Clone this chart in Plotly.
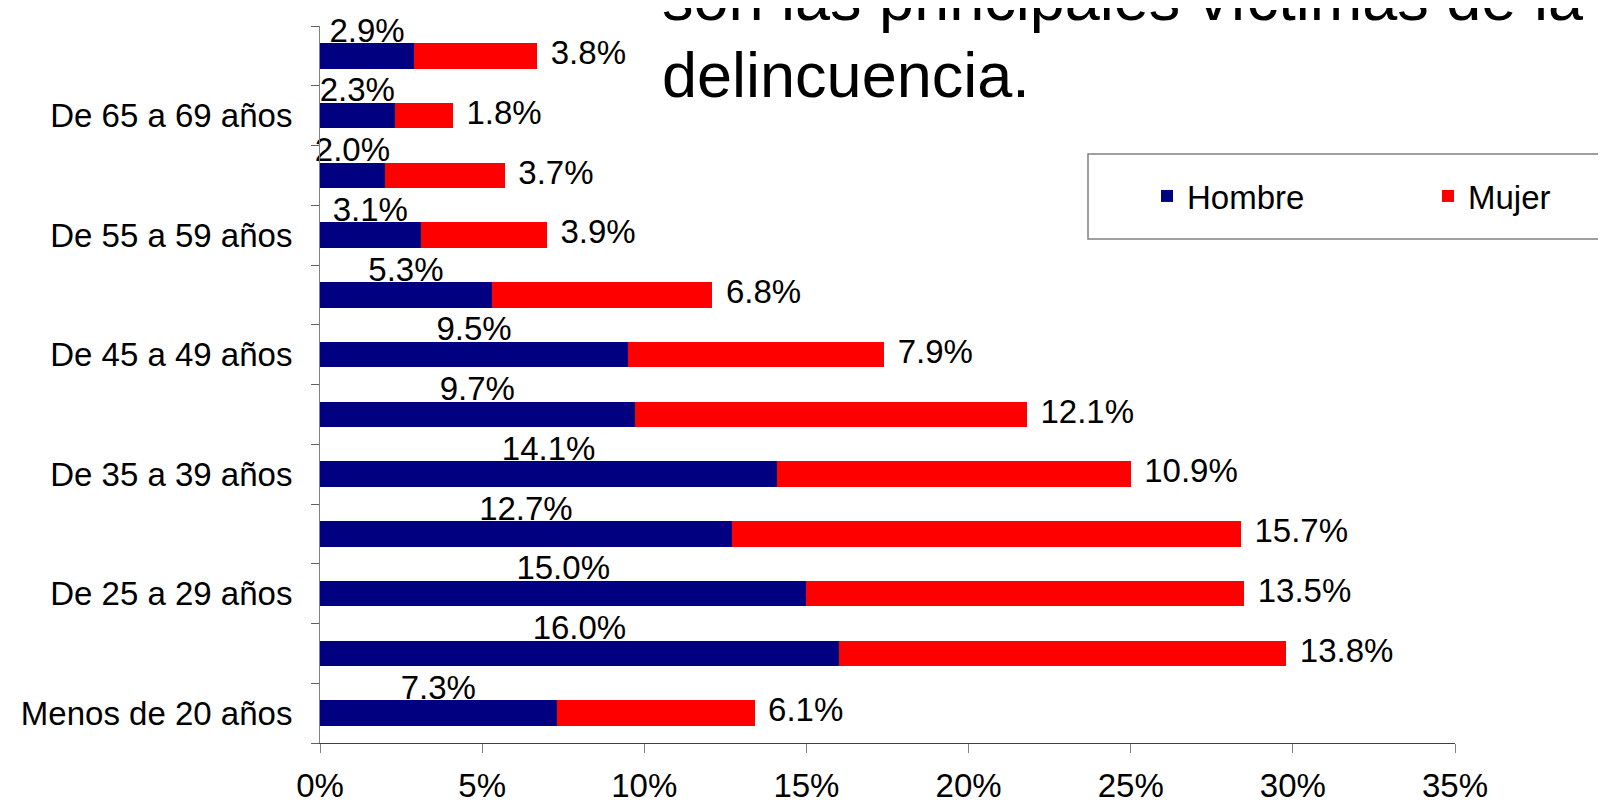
import plotly.graph_objects as go

# ---------------- data ----------------
categories = [
    "Menos de 20 años", "De 20 a 24 años", "De 25 a 29 años", "De 30 a 34 años",
    "De 35 a 39 años", "De 40 a 44 años", "De 45 a 49 años", "De 50 a 54 años",
    "De 55 a 59 años", "De 60 a 64 años", "De 65 a 69 años", "De 70 años y más",
]
shown_labels = [
    "Menos de 20 años", "De 25 a 29 años", "De 35 a 39 años",
    "De 45 a 49 años", "De 55 a 59 años", "De 65 a 69 años",
]
hombre = [7.3, 16.0, 15.0, 12.7, 14.1, 9.7, 9.5, 5.3, 3.1, 2.0, 2.3, 2.9]
mujer = [6.1, 13.8, 13.5, 15.7, 10.9, 12.1, 7.9, 6.8, 3.9, 3.7, 1.8, 3.8]
x_ticks = [0, 5, 10, 15, 20, 25, 30, 35]
series_names = ["Hombre", "Mujer"]
title_lines = ["son las principales víctimas de la", "delincuencia."]

# ---------------- style ----------------
FONT = "Liberation Sans, Arial, sans-serif"
FS = 33
NAVY = "#000080"
RED = "#FF0000"
OFF = 8                      # page body margin (top/left)
W, H = 1606 - OFF, 805 - OFF
ML = 320 - OFF
MT = 26 - OFF
MR = W - (1455 - OFF)
MB = H - (743 - OFF)
PW, PH = W - ML - MR, H - MT - MB


def px_x(px):
    """screen pixel -> paper x"""
    return (px - OFF - ML) / PW


def px_y(py):
    """screen pixel -> paper y"""
    return (H - MB - (py - OFF)) / PH


totals = [h + m for h, m in zip(hombre, mujer)]

fig = go.Figure()

# Hombre value labels (drawn beneath the bars, as in the original)
fig.add_trace(go.Scatter(
    x=[h / 2 for h in hombre], y=categories, yaxis="y",
    mode="markers+text", text=[f"{h:.1f}%" for h in hombre],
    marker=dict(size=8, opacity=0),
    textposition="top center",
    textfont=dict(family=FONT, size=FS, color="black"),
    showlegend=False, hoverinfo="skip", cliponaxis=False,
))
# Mujer value labels, right of each bar end
fig.add_trace(go.Scatter(
    x=totals, y=categories, yaxis="y",
    mode="markers+text", text=[f"{m:.1f}%" for m in mujer],
    marker=dict(size=20, opacity=0),
    textposition="middle right",
    textfont=dict(family=FONT, size=FS, color="black"),
    showlegend=False, hoverinfo="skip", cliponaxis=False,
))

fig.add_trace(go.Bar(
    x=hombre, y=categories, yaxis="y2", orientation="h",
    name=series_names[0], marker=dict(color=NAVY, line=dict(width=0)), width=0.43,
))
fig.add_trace(go.Bar(
    x=mujer, y=categories, yaxis="y2", orientation="h",
    name=series_names[1], marker=dict(color=RED, line=dict(width=0)), width=0.43,
))

fig.update_layout(
    width=W, height=H,
    margin=dict(l=ML, r=MR, t=MT, b=MB, autoexpand=False),
    paper_bgcolor="white", plot_bgcolor="white",
    barmode="stack",
    font=dict(family=FONT, size=FS, color="black"),
    xaxis=dict(
        range=[0, 35], tickmode="array", tickvals=x_ticks,
        ticktext=[f"{v}%" for v in x_ticks],
        ticks="outside", ticklen=9, tickcolor="#808080", tickwidth=1,
        showline=True, linecolor="#404040", linewidth=1,
        showgrid=False, zeroline=False, automargin=False, ticklabelstandoff=4,
        tickfont=dict(family=FONT, size=FS, color="black"),
    ),
    yaxis=dict(
        type="category", categoryorder="array", categoryarray=categories,
        range=[-0.5, len(categories) - 0.5],
        tickmode="array", tickvals=categories,
        ticktext=[c if c in shown_labels else "" for c in categories],
        tickson="boundaries", ticks="outside", ticklen=8,
        tickcolor="#606060", tickwidth=1,
        showline=True, linecolor="#808080", linewidth=1,
        showgrid=False, zeroline=False, ticklabelstandoff=20, automargin=False,
        tickfont=dict(family=FONT, size=FS, color="black"),
    ),
    yaxis2=dict(
        type="category", categoryorder="array", categoryarray=categories,
        range=[-0.5, len(categories) - 0.5], overlaying="y", side="left",
        showticklabels=False, ticks="", showline=False, showgrid=False,
        zeroline=False, automargin=False,
    ),
    legend=dict(
        orientation="h", traceorder="normal",
        x=px_x(1147), xanchor="left", y=px_y(196), yanchor="middle",
        bgcolor="rgba(0,0,0,0)", borderwidth=0, entrywidth=236,
        font=dict(family=FONT, size=FS, color="black"),
    ),
    shapes=[dict(
        type="rect", xref="paper", yref="paper",
        x0=px_x(1088), x1=px_x(1640), y0=px_y(239), y1=px_y(154),
        line=dict(color="#808080", width=1.5), fillcolor="rgba(0,0,0,0)", layer="above",
    )],
    annotations=[
        dict(text=title_lines[0], xref="paper", yref="paper", x=px_x(660), y=px_y(35),
             xanchor="left", yanchor="bottom", showarrow=False,
             font=dict(family=FONT, size=63, color="black")),
        dict(text=title_lines[1], xref="paper", yref="paper", x=px_x(660), y=px_y(112),
             xanchor="left", yanchor="bottom", showarrow=False,
             font=dict(family=FONT, size=63, color="black")),
    ],
)

fig.write_html("out.html")
